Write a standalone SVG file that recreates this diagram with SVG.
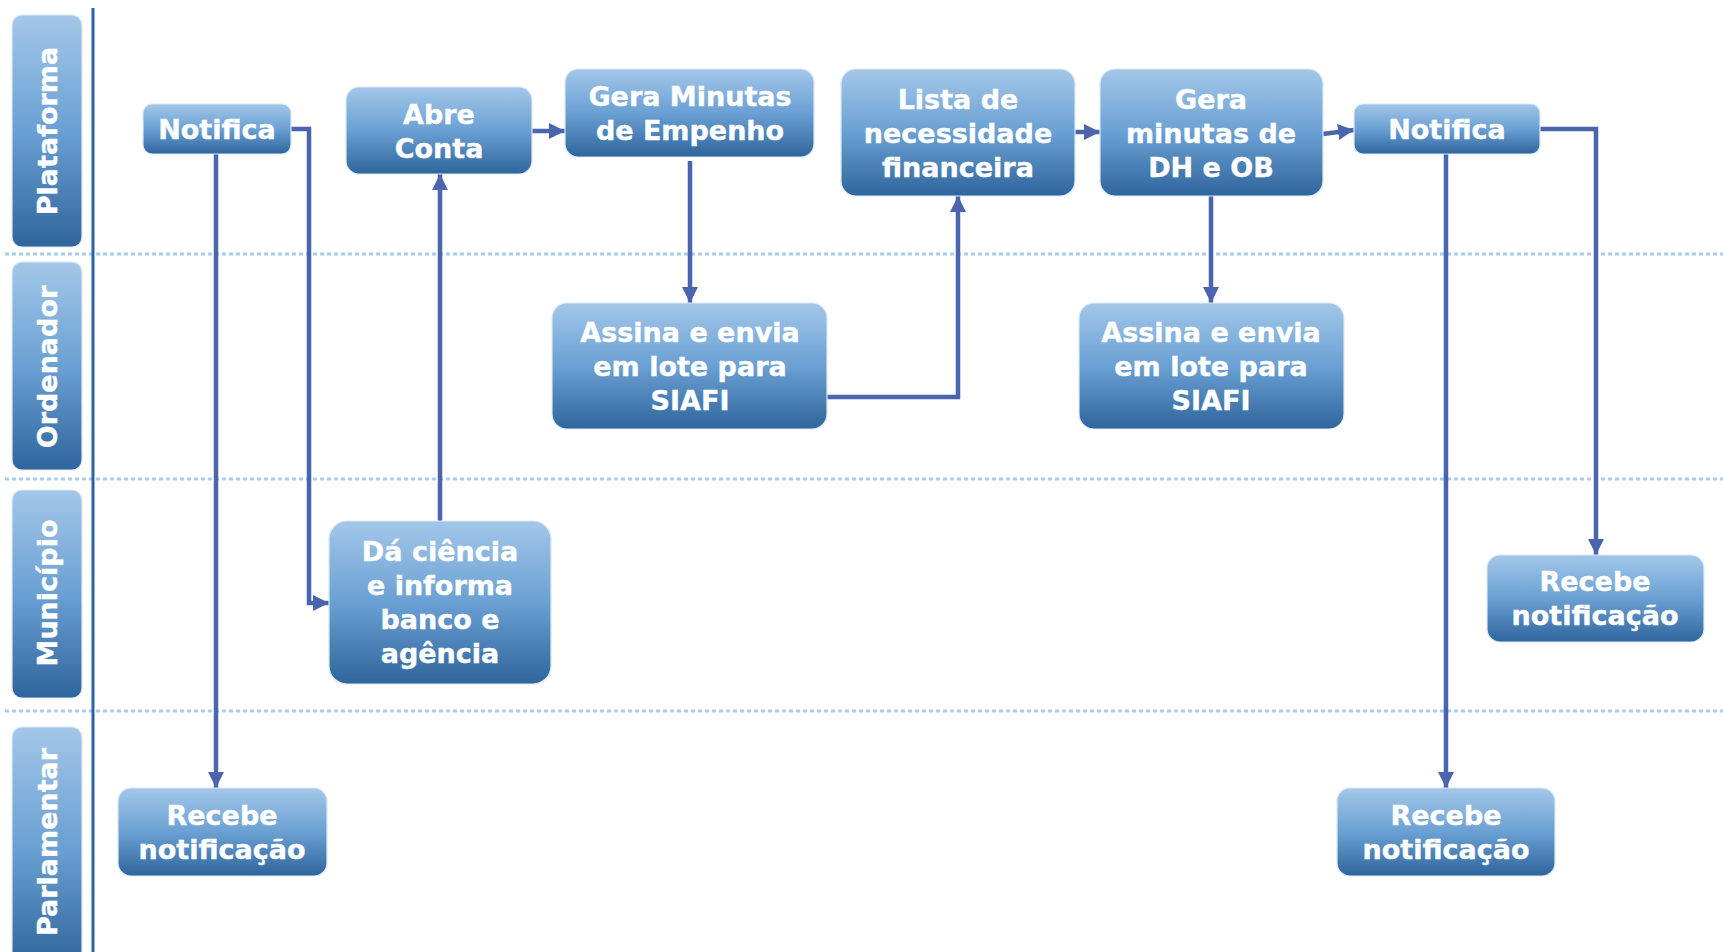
<svg xmlns="http://www.w3.org/2000/svg" width="1723" height="952" viewBox="0 0 1723 952">
<defs>
<linearGradient id="g" x1="0" y1="0" x2="0" y2="1">
<stop offset="0" stop-color="#a3c7e9"/>
<stop offset="0.5" stop-color="#6aa0d3"/>
<stop offset="1" stop-color="#2e659c"/>
</linearGradient>
<marker id="ah" markerUnits="userSpaceOnUse" markerWidth="18" markerHeight="18" refX="16" refY="8" orient="auto">
<path d="M0,0 L16,8 L0,16 z" fill="#4a64ae"/>
</marker>
<style>
.box{fill:url(#g);stroke:#dce8f5;stroke-width:1.2}
.t{font-family:"DejaVu Sans",Verdana,sans-serif;font-weight:bold;font-size:27px;fill:#ffffff;stroke:#ffffff;stroke-width:0.4;text-anchor:middle}
.c{fill:none;stroke:#4a64ae;stroke-width:4.5;marker-end:url(#ah)}
.dot{stroke:#a8cdf0;stroke-width:3;stroke-dasharray:4 3}
</style>
</defs>
<rect width="1723" height="952" fill="#ffffff"/>
<g id="lanes">
<line class="dot" x1="5" y1="254" x2="1723" y2="254"/>
<line class="dot" x1="5" y1="479" x2="1723" y2="479"/>
<line class="dot" x1="5" y1="711" x2="1723" y2="711"/>
<line x1="93" y1="8" x2="93" y2="952" stroke="#2d62a8" stroke-width="3"/>
<g id="lane-plataforma"><rect class="box" x="12" y="15" width="70" height="232" rx="10"/><text class="t" transform="translate(57,131) rotate(-90)">Plataforma</text></g>
<g id="lane-ordenador"><rect class="box" x="12" y="262" width="70" height="208" rx="10"/><text class="t" transform="translate(57,367) rotate(-90)">Ordenador</text></g>
<g id="lane-municipio"><rect class="box" x="12" y="490" width="70" height="208" rx="10"/><text class="t" transform="translate(57,593) rotate(-90)">Município</text></g>
<g id="lane-parlamentar"><rect class="box" x="12" y="727" width="70" height="240" rx="10"/><text class="t" transform="translate(57,842) rotate(-90)">Parlamentar</text></g>
</g>
<g id="connectors">
<path class="c" d="M216,154 V788"/>
<path class="c" d="M291,129 H309 V603 H329"/>
<path class="c" d="M440,521 V174"/>
<path class="c" d="M532,131 H565"/>
<path class="c" d="M690,161 V303"/>
<path class="c" d="M827,397 H958 V196"/>
<path class="c" d="M1075,132 H1100"/>
<path class="c" d="M1211,196 V303"/>
<path class="c" d="M1323,134 L1354,130"/>
<path class="c" d="M1446,154 V788"/>
<path class="c" d="M1540,129 H1596 V555"/>
</g>
<g id="n-notifica1"><rect class="box" x="143" y="104" width="148" height="50" rx="9"/><text class="t" x="217" y="139">Notifica</text></g>
<g id="n-abreconta"><rect class="box" x="346" y="87" width="186" height="87" rx="13"/><text class="t" x="439" y="124">Abre</text><text class="t" x="439" y="158">Conta</text></g>
<g id="n-geraminutas"><rect class="box" x="565" y="69" width="249" height="88" rx="13"/><text class="t" x="690" y="106">Gera Minutas</text><text class="t" x="690" y="140">de Empenho</text></g>
<g id="n-lista"><rect class="box" x="841" y="69" width="234" height="127" rx="15"/><text class="t" x="958" y="109">Lista de</text><text class="t" x="958" y="143">necessidade</text><text class="t" x="958" y="177">financeira</text></g>
<g id="n-geradh"><rect class="box" x="1100" y="69" width="223" height="127" rx="15"/><text class="t" x="1211" y="109">Gera</text><text class="t" x="1211" y="143">minutas de</text><text class="t" x="1211" y="177">DH e OB</text></g>
<g id="n-notifica2"><rect class="box" x="1354" y="104" width="186" height="50" rx="9"/><text class="t" x="1447" y="139">Notifica</text></g>
<g id="n-assina1"><rect class="box" x="552" y="303" width="275" height="126" rx="15"/><text class="t" x="690" y="342">Assina e envia</text><text class="t" x="690" y="376">em lote para</text><text class="t" x="690" y="410">SIAFI</text></g>
<g id="n-assina2"><rect class="box" x="1079" y="303" width="265" height="126" rx="15"/><text class="t" x="1211" y="342">Assina e envia</text><text class="t" x="1211" y="376">em lote para</text><text class="t" x="1211" y="410">SIAFI</text></g>
<g id="n-daciencia"><rect class="box" x="329" y="521" width="222" height="163" rx="18"/><text class="t" x="440" y="561">Dá ciência</text><text class="t" x="440" y="595">e informa</text><text class="t" x="440" y="629">banco e</text><text class="t" x="440" y="663">agência</text></g>
<g id="n-recebe-mun"><rect class="box" x="1487" y="555" width="217" height="87" rx="13"/><text class="t" x="1595" y="591">Recebe</text><text class="t" x="1595" y="625">notificação</text></g>
<g id="n-recebe-parl1"><rect class="box" x="118" y="788" width="209" height="88" rx="13"/><text class="t" x="222" y="825">Recebe</text><text class="t" x="222" y="859">notificação</text></g>
<g id="n-recebe-parl2"><rect class="box" x="1337" y="788" width="218" height="88" rx="13"/><text class="t" x="1446" y="825">Recebe</text><text class="t" x="1446" y="859">notificação</text></g>
</svg>
